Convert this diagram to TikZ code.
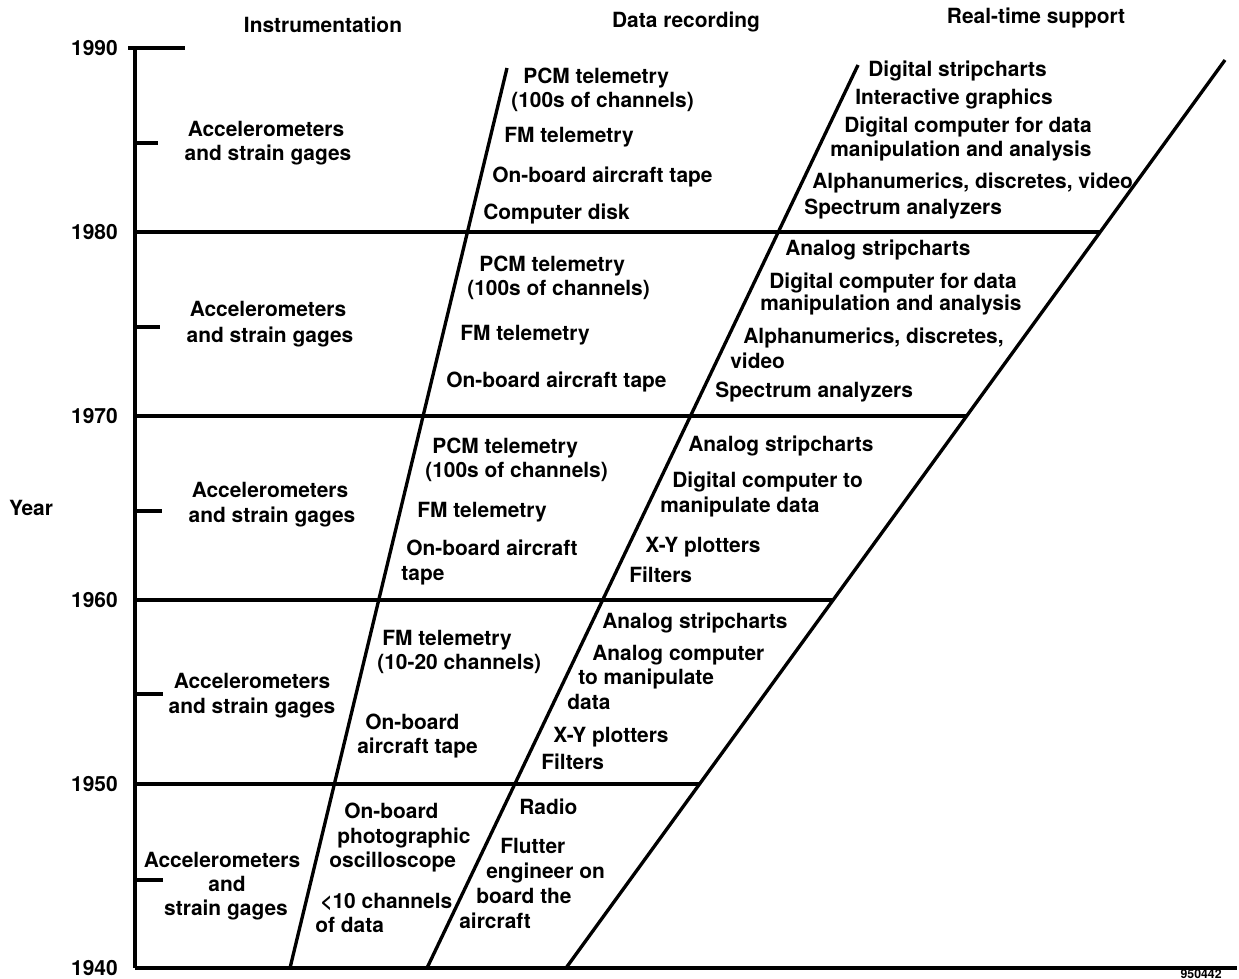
\documentclass[tikz,border=0pt]{standalone}
\usepackage{fontspec}
\setmainfont{TeX Gyre Heros}
\begin{document}
\begin{tikzpicture}
  [x=0.02cm,y=-0.02cm,
   rule/.style={line width=1.9pt},
   txt/.style={font=\fontsize{11.9}{14}\selectfont\bfseries,inner sep=0pt,anchor=base west},
   ctr/.style={txt,anchor=base},
   yr/.style={txt,anchor=east}]

  \useasboundingbox (0,0) rectangle (1239,979);

  % frame: axis, decade lines, diagonals
  \coordinate (axT) at (135,48);
  \coordinate (axB) at (135,968);
  \coordinate (end40) at (1237,968);
  \coordinate (end50) at (700,784);
  \coordinate (end60) at (833,600);
  \coordinate (end70) at (967,416);
  \coordinate (end80) at (1100,232);
  \coordinate (l1b) at (290,968);
  \coordinate (l1t) at (507,68);
  \coordinate (l2b) at (427,968);
  \coordinate (l2t) at (858,65);
  \coordinate (l3b) at (566,968);
  \coordinate (l3t) at (1225,60);

  \draw [line width=2.3pt] (axT) -- (axB);
  \draw [rule] (128,48) -- (185,48);
  \draw [rule] (axB) -- (end40);
  \draw [rule] (135,784) -- (end50);
  \draw [rule] (135,600) -- (end60);
  \draw [rule] (135,416) -- (end70);
  \draw [rule] (135,232) -- (end80);

  \draw [rule] (135,143) -- (158,143);
  \draw [rule] (135,327) -- (160,327);
  \draw [rule] (135,511) -- (162,511);
  \draw [rule] (135,694) -- (163,694);
  \draw [rule] (135,880) -- (163,880);

  \draw [rule] (l1b) -- (l1t);
  \draw [rule] (l2b) -- (l2t);
  \draw [rule] (l3b) -- (l3t);

  % headings
  \node[ctr] (hInst) at (323,33) {Instrumentation};
  \node[ctr] (hData) at (686,28) {Data recording};
  \node[ctr] (hReal) at (1036,24) {Real-time support};

  % years
  \node[yr] (y90) at (118,48)  {1990};
  \node[yr] (y80) at (118,232) {1980};
  \node[yr] (y70) at (118,416) {1970};
  \node[yr] (y60) at (118,600) {1960};
  \node[yr] (y50) at (118,784) {1950};
  \node[yr] (y40) at (118,968) {1940};
  \node[txt,anchor=center] (year) at (31,508) {Year};

  % instrumentation
  \node[ctr] (i85a) at (266,137) {Accelerometers};
  \node[ctr] (i85b) at (268,161) {and strain gages};
  \node[ctr] (i75a) at (268,317) {Accelerometers};
  \node[ctr] (i75b) at (270,342) {and strain gages};
  \node[ctr] (i65a) at (270,497) {Accelerometers};
  \node[ctr] (i65b) at (272,522) {and strain gages};
  \node[ctr] (i55a) at (252,688) {Accelerometers};
  \node[ctr] (i55b) at (252,713) {and strain gages};
  \node[ctr] (i45a) at (222,867) {Accelerometers};
  \node[ctr] (i45b) at (227,891) {and};
  \node[ctr] (i45c) at (226,915) {strain gages};

  % data recording
  \node[txt] (d85a) at (523,84)  {PCM telemetry};
  \node[txt] (d85b) at (511,108) {(100s of channels)};
  \node[txt] (d85c) at (504,143) {FM telemetry};
  \node[txt] (d85d) at (492,183) {On-board aircraft tape};
  \node[txt] (d85e) at (483,220) {Computer disk};

  \node[txt] (d75a) at (479,272) {PCM telemetry};
  \node[txt] (d75b) at (467,296) {(100s of channels)};
  \node[txt] (d75c) at (460,340) {FM telemetry};
  \node[txt] (d75d) at (446,387) {On-board aircraft tape};

  \node[txt] (d65a) at (432,453) {PCM telemetry};
  \node[txt] (d65b) at (425,477) {(100s of channels)};
  \node[txt] (d65c) at (417,517) {FM telemetry};
  \node[txt] (d65d) at (406,555) {On-board aircraft};
  \node[txt] (d65e) at (401,580) {tape};

  \node[txt] (d55a) at (382,645) {FM telemetry};
  \node[txt] (d55b) at (377,669) {(10-20 channels)};
  \node[txt] (d55c) at (365,729) {On-board};
  \node[txt] (d55d) at (357,753) {aircraft tape};

  \node[txt] (d45a) at (344,818) {On-board};
  \node[txt] (d45b) at (337,843) {photographic};
  \node[txt] (d45c) at (329,867) {oscilloscope};
  \node[txt] (d45d) at (320,908) {<10 channels};
  \node[txt] (d45e) at (315,932) {of data};

  % real-time support
  \node[txt] (r85a) at (868,77)  {Digital stripcharts};
  \node[txt] (r85b) at (855,105) {Interactive graphics};
  \node[txt] (r85c) at (844,133) {Digital computer for data};
  \node[txt] (r85d) at (830,157) {manipulation and analysis};
  \node[txt] (r85e) at (812,189) {Alphanumerics, discretes, video};
  \node[txt] (r85f) at (804,215) {Spectrum analyzers};

  \node[txt] (r75a) at (785,256) {Analog stripcharts};
  \node[txt] (r75b) at (769,289) {Digital computer for data};
  \node[txt] (r75c) at (760,311) {manipulation and analysis};
  \node[txt] (r75d) at (743,344) {Alphanumerics, discretes,};
  \node[txt] (r75e) at (730,368) {video};
  \node[txt] (r75f) at (715,398) {Spectrum analyzers};

  \node[txt] (r65a) at (688,451) {Analog stripcharts};
  \node[txt] (r65b) at (672,487) {Digital computer to};
  \node[txt] (r65c) at (660,512) {manipulate data};
  \node[txt] (r65d) at (645,552) {X-Y plotters};
  \node[txt] (r65e) at (629,582) {Filters};

  \node[txt] (r55a) at (602,628) {Analog stripcharts};
  \node[txt] (r55b) at (592,660) {Analog computer};
  \node[txt] (r55c) at (578,684) {to manipulate};
  \node[txt] (r55d) at (567,709) {data};
  \node[txt] (r55e) at (553,742) {X-Y plotters};
  \node[txt] (r55f) at (541,769) {Filters};

  \node[txt] (r45a) at (519,814) {Radio};
  \node[txt] (r45b) at (500,853) {Flutter};
  \node[txt] (r45c) at (486,878) {engineer on};
  \node[txt] (r45d) at (476,903) {board the};
  \node[txt] (r45e) at (459,928) {aircraft};

  \node[txt,anchor=base east,font=\fontsize{7}{8}\selectfont\bfseries] (code) at (1222,978) {950442};

\end{tikzpicture}
\end{document}
